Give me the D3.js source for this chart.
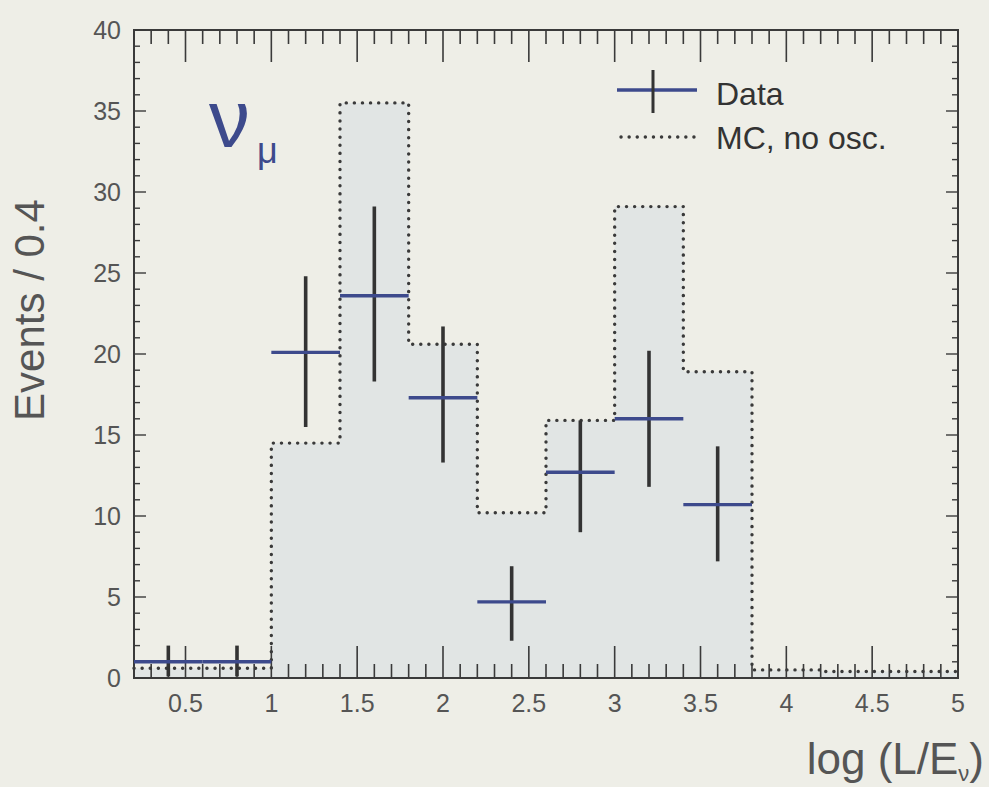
<!DOCTYPE html>
<html>
<head>
<meta charset="utf-8">
<script src="https://cdn.jsdelivr.net/npm/d3@7"></script>
<style>
  html, body { margin: 0; padding: 0; background: #eeeee7; }
  svg { display: block; }
  text { font-family: "Liberation Sans", Arial, sans-serif; }
</style>
</head>
<body>
<svg id="chart" width="989" height="787"></svg>
<script>
// bin centres (width 0.4), from 0.2 to 5.0
const binCenters = [0.4, 0.8, 1.2, 1.6, 2.0, 2.4, 2.8, 3.2, 3.6, 4.0, 4.4, 4.8];
const binWidth = 0.4;

// MC, no oscillation (dotted histogram)
const mcValues = [0.6, 0.6, 14.5, 35.5, 20.6, 10.2, 15.9, 29.1, 18.9, 0.5, 0.4, 0.4];

// measured data with asymmetric errors
const dataCenters = [0.4, 0.8, 1.2, 1.6, 2.0, 2.4, 2.8, 3.2, 3.6];
const dataValues = [1.0, 1.0, 20.1, 23.6, 17.3, 4.7, 12.7, 16.0, 10.7];
const dataLow = [0.1, 0.1, 15.5, 18.3, 13.3, 2.3, 9.0, 11.8, 7.2];
const dataHigh = [2.0, 2.0, 24.8, 29.1, 21.7, 6.9, 15.9, 20.2, 14.3];

const xTicks = [0.5, 1, 1.5, 2, 2.5, 3, 3.5, 4, 4.5, 5];
const yTicks = [0, 5, 10, 15, 20, 25, 30, 35, 40];

const svg = d3.select('#chart');
const margin = { left: 134, top: 30, right: 958, bottom: 678 };

const x = d3.scaleLinear().domain([0.2, 5]).range([margin.left, margin.right]);
const y = d3.scaleLinear().domain([0, 40]).range([margin.bottom, margin.top]);

const ink = '#3a3a3a';
const blue = '#3d4a8c';
const grey = '#555';

// MC histogram points (step after)
const mcPts = binCenters.map((c, i) => ({ x: c - binWidth / 2, v: mcValues[i] }));
mcPts.push({ x: 5.0, v: mcValues[mcValues.length - 1] });

svg.append('path')
  .datum(mcPts)
  .attr('fill', '#e1e5e4')
  .attr('d', d3.area().curve(d3.curveStepAfter)
    .x(d => x(d.x)).y0(y(0)).y1(d => y(d.v)));

// frame
svg.append('rect')
  .attr('x', margin.left).attr('y', margin.top)
  .attr('width', margin.right - margin.left)
  .attr('height', margin.bottom - margin.top)
  .attr('fill', 'none').attr('stroke', ink).attr('stroke-width', 2);

// x ticks (inward, bottom and top)
const xMinor = d3.range(0.2, 5.001, 0.1).map(v => +v.toFixed(2));
const gx = svg.append('g');
xMinor.forEach(v => {
  const major = Math.abs(v * 2 - Math.round(v * 2)) < 1e-6;
  const len = major ? 32 : 14;
  gx.append('line')
    .attr('x1', x(v)).attr('x2', x(v))
    .attr('y1', y(0)).attr('y2', y(0) - len)
    .attr('stroke', ink).attr('stroke-width', 1.6);
  gx.append('line')
    .attr('x1', x(v)).attr('x2', x(v))
    .attr('y1', y(40)).attr('y2', y(40) + len)
    .attr('stroke', ink).attr('stroke-width', 1.6);
});

// y ticks (inward, left and right)
const gy = svg.append('g');
d3.range(0, 41, 1).forEach(v => {
  const major = v % 5 === 0;
  const len = major ? 12 : 6;
  gy.append('line')
    .attr('x1', x(0.2)).attr('x2', x(0.2) + len)
    .attr('y1', y(v)).attr('y2', y(v))
    .attr('stroke', ink).attr('stroke-width', 1.4);
  gy.append('line')
    .attr('x1', x(5)).attr('x2', x(5) - len)
    .attr('y1', y(v)).attr('y2', y(v))
    .attr('stroke', ink).attr('stroke-width', 1.4);
});

// tick labels
svg.append('g').selectAll('text')
  .data(xTicks)
  .enter().append('text')
  .attr('x', d => x(d))
  .attr('y', 712)
  .attr('text-anchor', 'middle')
  .attr('font-size', 25)
  .attr('fill', grey)
  .text(d => d);

svg.append('g').selectAll('text')
  .data(yTicks)
  .enter().append('text')
  .attr('x', 121)
  .attr('y', d => y(d) + 9)
  .attr('text-anchor', 'end')
  .attr('font-size', 25)
  .attr('fill', grey)
  .text(d => d);

// MC dotted outline
const dotted = { stroke: ink, width: 3.4, dash: '0.1 8' };
svg.append('path')
  .datum(mcPts)
  .attr('fill', 'none')
  .attr('stroke', dotted.stroke)
  .attr('stroke-width', dotted.width)
  .attr('stroke-dasharray', dotted.dash)
  .attr('stroke-linecap', 'round')
  .attr('d', d3.line().curve(d3.curveStepAfter).x(d => x(d.x)).y(d => y(d.v)));

// data points: error bars and bin-width bars
const gd = svg.append('g');
dataCenters.forEach((c, i) => {
  gd.append('line')
    .attr('x1', x(c)).attr('x2', x(c))
    .attr('y1', y(dataLow[i])).attr('y2', y(dataHigh[i]))
    .attr('stroke', '#333').attr('stroke-width', 3.6);
  gd.append('line')
    .attr('x1', x(c - binWidth / 2)).attr('x2', x(c + binWidth / 2))
    .attr('y1', y(dataValues[i])).attr('y2', y(dataValues[i]))
    .attr('stroke', blue).attr('stroke-width', 3.4);
});

// legend
const lg = svg.append('g');
lg.append('line').attr('x1', 617).attr('x2', 697).attr('y1', 90).attr('y2', 90)
  .attr('stroke', blue).attr('stroke-width', 3.4);
lg.append('line').attr('x1', 653).attr('x2', 653).attr('y1', 70).attr('y2', 113)
  .attr('stroke', '#333').attr('stroke-width', 3);
lg.append('text').attr('x', 716).attr('y', 105).attr('font-size', 32)
  .attr('font-family', 'DejaVu Sans').attr('fill', '#333').text('Data');
lg.append('line').attr('x1', 621).attr('x2', 695).attr('y1', 137).attr('y2', 137)
  .attr('stroke', dotted.stroke).attr('stroke-width', dotted.width)
  .attr('stroke-dasharray', dotted.dash).attr('stroke-linecap', 'round');
lg.append('text').attr('x', 716).attr('y', 149).attr('font-size', 32)
  .attr('font-family', 'DejaVu Sans').attr('fill', '#333').text('MC, no osc.');

// nu_mu label
svg.append('text').attr('x', 209).attr('y', 147).attr('fill', blue)
  .attr('font-size', 82).attr('font-family', 'DejaVu Sans').text('ν');
svg.append('text').attr('x', 257).attr('y', 163).attr('fill', blue)
  .attr('font-size', 36).attr('font-family', 'DejaVu Sans').text('μ');

// axis titles
svg.append('text')
  .attr('transform', 'translate(44,310) rotate(-90)')
  .attr('text-anchor', 'middle')
  .attr('font-size', 42)
  .attr('fill', grey)
  .text('Events / 0.4');

const xt = svg.append('text').attr('x', 984).attr('y', 774)
  .attr('text-anchor', 'end').attr('font-size', 44).attr('fill', grey);
xt.append('tspan').text('log (L/E');
xt.append('tspan').attr('font-size', 22).attr('dy', 7).text('ν');
xt.append('tspan').attr('dy', -7).text(')');
</script>
</body>
</html>
